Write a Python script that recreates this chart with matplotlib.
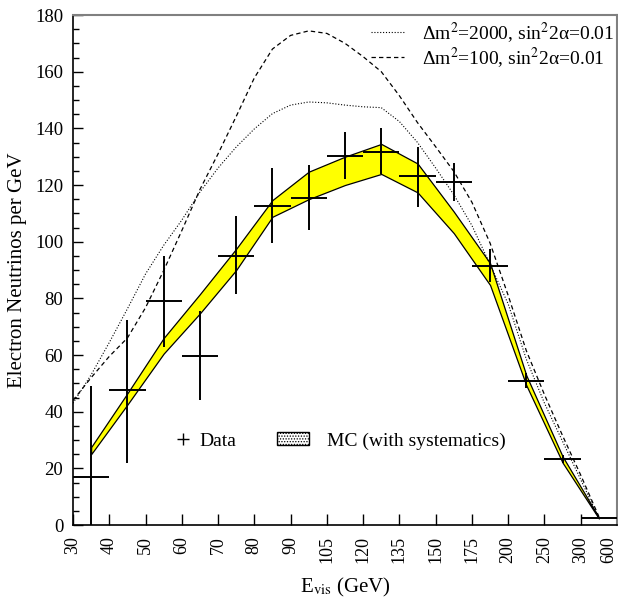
import numpy as np
import matplotlib
matplotlib.use("Agg")
import matplotlib.pyplot as plt
from matplotlib.lines import Line2D
from matplotlib.patches import Patch

plt.rcParams['font.family'] = ['Liberation Serif', 'DejaVu Serif']
plt.rcParams['mathtext.fontset'] = 'stix'
plt.rcParams['hatch.linewidth'] = 0.6

# bin edges (GeV), shown as equally spaced tick labels
edge_labels = ['30', '40', '50', '60', '70', '80', '90', '105', '120',
               '135', '150', '175', '200', '250', '300', '600']

# data per bin
data_val = [17, 47.5, 79, 59.5, 95, 112.5, 115.5, 130.3, 131.5, 123.2,
            121.2, 91.5, 51, 23.3, 2.5]
data_lo = [0, 22, 63, 44, 81.5, 99.5, 104, 122, 124, 112.3,
           114.4, 85.9, 48.4, 21.9, 2.2]
data_hi = [49, 72.5, 95, 75.5, 109, 126, 127, 138.6, 140, 133.5,
           127.9, 97.3, 53.6, 24.7, 2.8]

# MC band (with systematics)
mc_lo = [25, 42.5, 60.5, 74.7, 90, 108.8, 115, 120, 123.9, 117.4,
         103, 84.7, 49.3, 22, 2.3]
mc_hi = [27.5, 46.5, 66, 81.5, 97.5, 114.7, 124.7, 130, 134.5, 127.6,
         110.6, 92.4, 52.8, 24.2, 2.7]

# oscillation curves, read every half bin
curve_pos = [0, 0.5, 1, 1.5, 2, 2.5, 3, 3.5, 4, 4.5, 5, 5.5, 6, 6.5, 7,
             7.5, 8, 8.5, 9, 9.5, 10, 10.5, 11, 11.5, 12, 12.5, 13, 13.5, 14, 14.5]
dm2000 = [43, 53, 64.4, 76.3, 88.6, 98.7, 107.6, 117.5, 126, 133.4,
          139.8, 145.2, 148.2, 149.3, 149, 148.2, 147.6, 147.3, 142.4, 135,
          126, 116.6, 105.7, 92, 78, 58.5, 43, 29.5, 16, 2.5]
dm100 = [44, 52, 59.5, 66, 76.7, 89.8, 103.9, 118.4, 131, 144.2,
         157.8, 168, 172.8, 174.4, 173.5, 170, 165.3, 160, 151.5, 142,
         133.5, 124.8, 113.9, 99.5, 81, 61.5, 46, 31.5, 17.6, 3]

nbins = len(data_val)
centers = np.arange(nbins) + 0.5
val = np.array(data_val)

fig = plt.figure(figsize=(6.18, 6.0), dpi=100)
ax = fig.add_axes([73 / 618, 75 / 600, 544 / 618, 510 / 600])

# MC band
ax.fill_between(centers, mc_lo, mc_hi, facecolor='#ffff00',
                edgecolor='black', linewidth=0.9, zorder=2)

# curves
l1, = ax.plot(curve_pos, dm2000, color='black', linewidth=0.8,
              dashes=(1, 1.6), zorder=3)
l2, = ax.plot(curve_pos, dm100, color='black', linewidth=0.9,
              dashes=(3.5, 2.5), zorder=3)

# data crosses
ax.errorbar(centers, val, xerr=0.5,
            yerr=[val - np.array(data_lo), np.array(data_hi) - val],
            fmt='none', ecolor='black', elinewidth=1.4, capsize=0, zorder=4)

ax.set_xlim(0, nbins)
ax.set_ylim(0, 180)
ax.set_xticks(np.arange(nbins + 1))
ax.set_xticklabels(edge_labels, rotation=90, fontsize=13)
ax.get_xticklabels()[-1].set_horizontalalignment('right')
ax.set_yticks(np.arange(0, 181, 20))
ax.set_yticks(np.arange(0, 181, 5), minor=True)
ax.tick_params(axis='y', which='major', direction='in', length=7, width=1,
               labelsize=13.5, pad=7)
ax.tick_params(axis='y', which='minor', direction='in', length=4, width=1)
ax.tick_params(axis='x', direction='in', length=8, width=1, pad=8)

for s in ['left', 'bottom']:
    ax.spines[s].set_linewidth(1.2)
for s in ['top', 'right']:
    ax.spines[s].set_color('#808080')
    ax.spines[s].set_linewidth(1.5)

ax.set_ylabel('Electron Neutrinos per GeV', fontsize=15)
ax.yaxis.set_label_coords(-0.085, 0.5)
ax.set_xlabel(r'E$_{\mathrm{vis}}$ (GeV)', fontsize=15)
ax.xaxis.set_label_coords(0.5, -0.099)

leg1 = ax.legend([l1, l2],
                 ['Δm$^2$=2000, sin$^2$2α=0.01',
                  'Δm$^2$=100, sin$^2$2α=0.01'],
                 loc='upper right', bbox_to_anchor=(0.995, 0.99),
                 frameon=False, fontsize=14, handlelength=1.7,
                 handletextpad=0.93, labelspacing=0.0, borderpad=0,
                 borderaxespad=0)
ax.add_artist(leg1)

data_h = Line2D([], [], color='black', marker='+', linestyle='none',
                markersize=9, markeredgewidth=1.0)
leg2 = ax.legend([data_h], ['Data'], loc='center left',
                 bbox_to_anchor=(0.186, 0.165), frameon=False, fontsize=14,
                 handlelength=0.9, handletextpad=0.4, borderpad=0,
                 borderaxespad=0)
ax.add_artist(leg2)

mc_h = Patch(facecolor='white', edgecolor='black', hatch='......',
             linewidth=1.0)
ax.legend([mc_h], ['MC (with systematics)'], loc='center left',
          bbox_to_anchor=(0.375, 0.165), frameon=False, fontsize=14,
          handlelength=1.65, handleheight=0.6, handletextpad=0.93,
          borderpad=0, borderaxespad=0)

fig.savefig('out.png', dpi=100)
